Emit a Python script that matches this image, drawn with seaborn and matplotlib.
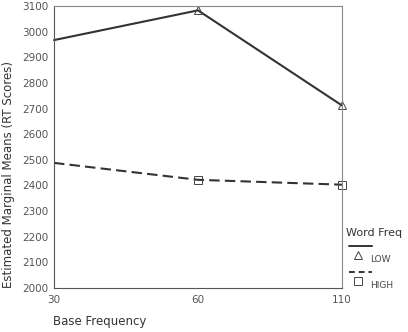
import numpy as np
import pandas as pd
import seaborn as sns
import matplotlib.pyplot as plt
from matplotlib.lines import Line2D

# data
base_freq = ["30", "60", "110"]
low_means = [2967, 3083, 2712]
high_means = [2488, 2422, 2403]
word_freq = ["LOW", "HIGH"]

df = pd.DataFrame({
    "Base Frequency": base_freq * 2,
    "mean": low_means + high_means,
    "Word Freq": ["LOW"] * 3 + ["HIGH"] * 3,
})

sns.set_style("white")
plt.rcParams['font.family'] = ['DejaVu Sans']

fig = plt.figure(figsize=(4.08, 3.32), dpi=100)
ax = fig.add_axes([54 / 408, 1 - 288 / 332, 288 / 408, 282 / 332])

styles = {"LOW": ("-", "^"), "HIGH": ((0, (5, 2.5)), "s")}
for wf in word_freq:
    sub = df[df["Word Freq"] == wf]
    ls, mk = styles[wf]
    sns.lineplot(data=sub, x="Base Frequency", y="mean", ax=ax, color="#333333",
                 linewidth=1.5, linestyle=ls, marker=mk, markersize=6,
                 markerfacecolor="none", markeredgecolor="#444444",
                 markeredgewidth=0.7, markevery=[1, 2], clip_on=False,
                 sort=False)

ax.set_xlim(0, 2)
ax.set_ylim(2000, 3100)
ax.set_yticks(np.arange(2000, 3101, 100))
ax.set_xlabel("")
ax.set_ylabel("")
ax.tick_params(axis="both", labelsize=7.5, colors="#555555", length=2, width=0.6, pad=2)
ax.tick_params(axis="x", pad=3)
for s in ax.spines.values():
    s.set_color("#888888")
    s.set_linewidth(0.8)
ax.spines["left"].set_color("#555555")
ax.spines["bottom"].set_color("#555555")

fig.text(53 / 408, 1 - 322 / 332, "Base Frequency", fontsize=8.5, color="#333333", va="center")
fig.text(9 / 408, 1 - 175 / 332, "Estimated Marginal Means (RT Scores)", fontsize=8.5,
         color="#333333", rotation=90, va="center", ha="center")

# legend drawn outside the axes like the original
fig.text(346 / 408, 1 - 233 / 332, "Word Freq", fontsize=8, color="#333333", va="center")
items = [("-", "^", "LOW", 246), ((0, (3, 2)), "s", "HIGH", 272)]
for ls, mk, lab, y in items:
    fig.add_artist(Line2D([349 / 408, 372 / 408], [1 - y / 332] * 2, color="#333333",
                          linewidth=1.4, linestyle=ls, transform=fig.transFigure))
    fig.add_artist(Line2D([358 / 408], [1 - (y + 9) / 332], marker=mk, markersize=5.5,
                          markerfacecolor="none", markeredgecolor="#444444",
                          markeredgewidth=0.7, linestyle="none", transform=fig.transFigure))
    fig.text(370 / 408, 1 - (y + 14) / 332, lab, fontsize=6.5, color="#444444", va="center")

fig.savefig("out.png", dpi=100)
